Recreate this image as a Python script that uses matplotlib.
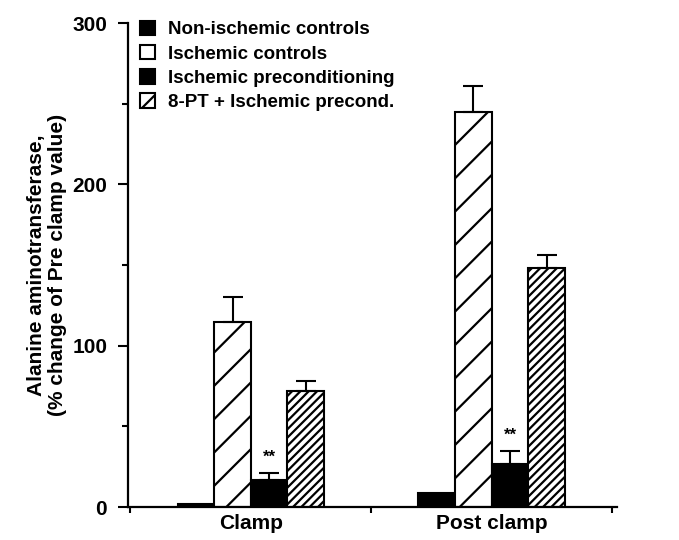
import numpy as np
import matplotlib.pyplot as plt
from matplotlib.patches import Patch
from matplotlib.ticker import MultipleLocator

plt.rcParams['font.family'] = ['Liberation Sans', 'DejaVu Sans']
plt.rcParams['font.weight'] = 'bold'
plt.rcParams['hatch.linewidth'] = 1.6

# data
groups = ['Clamp', 'Post clamp']
series = ['Non-ischemic controls', 'Ischemic controls',
          'Ischemic preconditioning', '8-PT + Ischemic precond.']
values = {
    'Non-ischemic controls': [2, 9],
    'Ischemic controls': [115, 245],
    'Ischemic preconditioning': [17, 27],
    '8-PT + Ischemic precond.': [72, 148],
}
errors = {
    'Non-ischemic controls': [0, 0],
    'Ischemic controls': [15, 16],
    'Ischemic preconditioning': [4, 8],
    '8-PT + Ischemic precond.': [6, 8],
}
signif = {'Ischemic preconditioning': ['**', '**']}

fig = plt.figure(figsize=(6.79, 5.40), dpi=100)
ax = fig.add_axes([0.1885, 0.061, 0.72, 0.896])

x = np.arange(len(groups))
w = 0.152
styles = [
    dict(color='black', hatch=None, leg_hatch=None),
    dict(color='white', hatch='/', leg_hatch=None),
    dict(color='black', hatch=None, leg_hatch=None),
    dict(color='white', hatch='////', leg_hatch='//'),
]

handles = []
for i, name in enumerate(series):
    pos = x + (i - 1.5) * w
    vals = values[name]
    errs = errors[name]
    st = styles[i]
    ax.bar(pos, vals, w, color=st['color'], edgecolor='black',
           hatch=st['hatch'], linewidth=1.5)
    if max(errs) > 0:
        ax.errorbar(pos, vals, yerr=[np.zeros(len(errs)), errs], fmt='none',
                    ecolor='black', elinewidth=1.5, capsize=7, capthick=1.5)
    if name in signif:
        for p, v, e, s in zip(pos, vals, errs, signif[name]):
            ax.text(p, v + e + 5, s, ha='center', va='bottom', fontsize=12,
                    fontweight='bold')
    handles.append(Patch(facecolor=st['color'], edgecolor='black',
                         hatch=st['leg_hatch'], linewidth=1.5, label=name))

ax.set_xlim(-0.51, 1.52)
ax.set_ylim(0, 300)
ax.set_xticks(x)
ax.set_xticklabels(groups, fontsize=15, fontweight='bold')
ax.xaxis.set_minor_locator(MultipleLocator(0.5))
ax.tick_params(axis='x', which='major', length=0, pad=5)
ax.tick_params(axis='x', which='minor', length=4, width=1.5)
ax.set_yticks([0, 100, 200, 300])
ax.yaxis.set_minor_locator(MultipleLocator(50))
ax.tick_params(axis='y', which='major', length=7, width=1.5, labelsize=15,
               pad=8)
ax.tick_params(axis='y', which='minor', length=4, width=1.5)
for lab in ax.get_yticklabels():
    lab.set_fontweight('bold')
ax.spines['top'].set_visible(False)
ax.spines['right'].set_visible(False)
ax.spines['left'].set_linewidth(1.6)
ax.spines['bottom'].set_linewidth(1.6)
ax.set_ylabel('Alanine aminotransferase,\n(% change of Pre clamp value)',
              fontsize=15, fontweight='bold', labelpad=4, linespacing=1.1)

leg = ax.legend(handles=handles, loc='upper left',
                bbox_to_anchor=(-0.01, 1.04), frameon=False,
                fontsize=13.5, handlelength=0.8, handleheight=0.8,
                handletextpad=0.7, labelspacing=0.35)
for t in leg.get_texts():
    t.set_fontweight('bold')

fig.savefig('out.png', dpi=100)
